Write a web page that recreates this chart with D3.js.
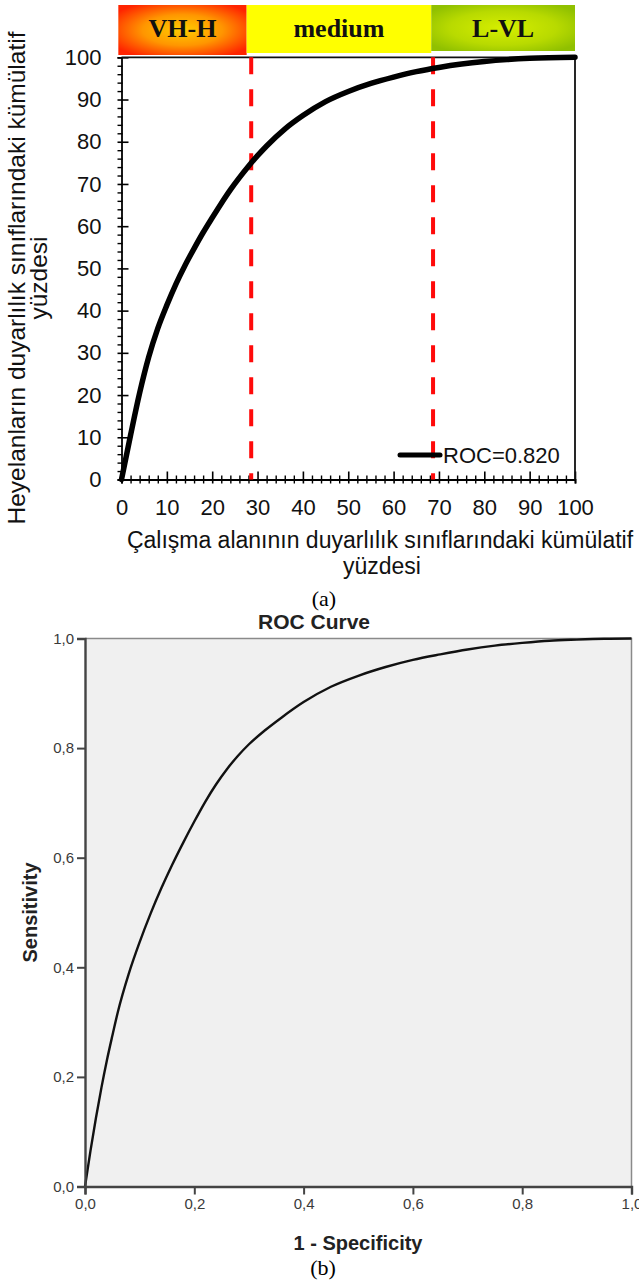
<!DOCTYPE html>
<html>
<head>
<meta charset="utf-8">
<script src="https://cdn.jsdelivr.net/npm/d3@7"></script>
<style>
  html, body { margin: 0; padding: 0; background: #fff; }
  svg { display: block; }
</style>
</head>
<body>
<script>
// ---------- DATA ----------
// (a) cumulative percentage curve
const curveAX = [0, 2, 4, 6, 8, 10, 12, 14, 16, 18, 20, 22, 24, 26, 28, 30, 32, 36, 40, 45, 50, 55, 60, 65, 70, 75, 80, 85, 90, 100];
const curveAY = [0, 10.5, 20.5, 29, 35.8, 41.3, 46.3, 50.7, 54.7, 58.5, 62, 65.4, 68.6, 71.5, 74.2, 76.7, 79, 83, 86.2, 89.5, 91.9, 93.8, 95.3, 96.6, 97.6, 98.4, 99, 99.45, 99.75, 100];
const bandLabels = ["VH-H", "medium", "L-VL"];
const bandEdges = [-0.7, 27.6, 68.3, 100];
const cutoffs = [28.6, 68.7];
const ticksA = [0, 10, 20, 30, 40, 50, 60, 70, 80, 90, 100];
const legendA = "ROC=0.820";
const xTitleA = ["Çalışma alanının duyarlılık sınıflarındaki kümülatif", "yüzdesi"];
const yTitleA = ["Heyelanların duyarlılık sınıflarındaki kümülatif", "yüzdesi"];

// (b) SPSS ROC curve
const rocFpr = [0, 0.01, 0.02, 0.03, 0.04, 0.05, 0.06, 0.08, 0.10, 0.12, 0.14, 0.16, 0.18, 0.20, 0.22, 0.24, 0.26, 0.28, 0.30, 0.33, 0.36, 0.40, 0.45, 0.50, 0.55, 0.60, 0.65, 0.70, 0.75, 0.80, 0.85, 0.90, 0.95, 1.0];
const rocTpr = [0, 0.065, 0.125, 0.18, 0.23, 0.275, 0.318, 0.388, 0.446, 0.498, 0.545, 0.588, 0.628, 0.666, 0.702, 0.734, 0.762, 0.786, 0.807, 0.833, 0.856, 0.884, 0.912, 0.932, 0.948, 0.961, 0.971, 0.980, 0.987, 0.992, 0.996, 0.998, 0.9995, 1.0];
const ticksB = [0, 0.2, 0.4, 0.6, 0.8, 1.0];
const titleB = "ROC Curve";
const xTitleB = "1 - Specificity";
const yTitleB = "Sensitivity";

// ---------- DRAW ----------
const W = 639, H = 1283;
const SANS = "'Liberation Sans', Arial, sans-serif";
const SERIF = "'Liberation Serif', 'Times New Roman', serif";

const svg = d3.select("body").append("svg").attr("width", W).attr("height", H);
svg.append("rect").attr("width", W).attr("height", H).attr("fill", "#fff");

const defs = svg.append("defs");
const g1 = defs.append("radialGradient").attr("id", "gradHigh").attr("cx", "50%").attr("cy", "50%").attr("r", "62%");
g1.append("stop").attr("offset", "0%").attr("stop-color", "#ffcc00");
g1.append("stop").attr("offset", "50%").attr("stop-color", "#ff9600");
g1.append("stop").attr("offset", "100%").attr("stop-color", "#ff2400");
const g2 = defs.append("radialGradient").attr("id", "gradLow").attr("cx", "50%").attr("cy", "50%").attr("r", "62%");
g2.append("stop").attr("offset", "0%").attr("stop-color", "#d6ee00");
g2.append("stop").attr("offset", "60%").attr("stop-color", "#b8da00");
g2.append("stop").attr("offset", "100%").attr("stop-color", "#90c000");
const bandFills = ["url(#gradHigh)", "#ffff00", "url(#gradLow)"];
const bandBottoms = [55, 53, 51];

// ===== Chart (a) =====
const xA = d3.scaleLinear().domain([0, 100]).range([121.5, 575]);
const yA = d3.scaleLinear().domain([0, 100]).range([479.5, 57.3]);

// header bands
const bands = svg.append("g");
bandLabels.forEach((lab, i) => {
  const x0 = xA(bandEdges[i]), x1 = xA(bandEdges[i + 1]);
  bands.append("rect").attr("x", x0).attr("y", 5).attr("width", x1 - x0).attr("height", bandBottoms[i] - 5)
    .attr("fill", bandFills[i]);
  bands.append("text").attr("x", (x0 + x1) / 2).attr("y", 37).attr("text-anchor", "middle")
    .attr("font-family", SERIF).attr("font-weight", "bold").attr("font-size", 26).attr("fill", "#111")
    .text(lab);
});

// axes a
const axA = svg.append("g").attr("font-family", SANS);
const minorA = d3.range(0, 101, 2).filter(v => v % 10 !== 0);

const xAxisA = axA.append("g").attr("transform", `translate(0,${yA(0)})`)
  .call(d3.axisBottom(xA).tickValues(ticksA).tickFormat(d3.format("d")).tickSize(4));
xAxisA.selectAll(".tick line").attr("y1", -8).attr("y2", 4).attr("stroke", "#000").attr("stroke-width", 1.6);
const xMinorA = axA.append("g").attr("transform", `translate(0,${yA(0)})`)
  .call(d3.axisBottom(xA).tickValues(minorA).tickFormat("").tickSize(4));
xMinorA.selectAll(".tick line").attr("y1", -4).attr("y2", 4).attr("stroke", "#000").attr("stroke-width", 1.4);
xMinorA.select(".domain").remove();

const yAxisA = axA.append("g").attr("transform", `translate(${xA(0)},0)`)
  .call(d3.axisLeft(yA).tickValues(ticksA).tickFormat(d3.format("d")).tickSize(4));
yAxisA.selectAll(".tick line").attr("x1", -4).attr("x2", 7).attr("stroke", "#000").attr("stroke-width", 1.6);
const yMinorA = axA.append("g").attr("transform", `translate(${xA(0)},0)`)
  .call(d3.axisLeft(yA).tickValues(minorA).tickFormat("").tickSize(4));
yMinorA.selectAll(".tick line").attr("x1", -4).attr("x2", 1).attr("stroke", "#000").attr("stroke-width", 1.4);
yMinorA.select(".domain").remove();

axA.selectAll(".domain").attr("stroke", "#000").attr("stroke-width", 1.8);
axA.selectAll(".tick text").attr("font-size", 22).attr("fill", "#111").attr("font-family", SANS);
xAxisA.selectAll(".tick text").attr("dy", "0.71em").attr("y", 20);
yAxisA.selectAll(".tick text").attr("x", -20);

// frame top/right
svg.append("path")
  .attr("d", `M${xA(0)},${yA(100)}H${xA(100)}V${yA(0)}`)
  .attr("fill", "none").attr("stroke", "#111").attr("stroke-width", 1.8);

// cutoff lines
svg.append("g").selectAll("line").data(cutoffs).join("line")
  .attr("x1", d => xA(d)).attr("x2", d => xA(d))
  .attr("y1", yA(100)).attr("y2", yA(0))
  .attr("stroke", "#ff0a0a").attr("stroke-width", 4).attr("stroke-dasharray", "17,15");

// curve
const lineA = d3.line().x(d => xA(d[0])).y(d => yA(d[1])).curve(d3.curveMonotoneX);
svg.append("path").datum(d3.zip(curveAX, curveAY))
  .attr("d", lineA).attr("fill", "none").attr("stroke", "#000").attr("stroke-width", 5.5)
  .attr("stroke-linecap", "round");

// legend
svg.append("line").attr("x1", 400).attr("x2", 440).attr("y1", 455).attr("y2", 455)
  .attr("stroke", "#000").attr("stroke-width", 5).attr("stroke-linecap", "round");
svg.append("text").attr("x", 443).attr("y", 463).attr("font-family", SANS).attr("font-size", 22)
  .attr("fill", "#111").text(legendA);

// axis titles
svg.append("g").selectAll("text").data(xTitleA).join("text")
  .attr("x", (d, i) => i === 0 ? 380 : 382).attr("y", (d, i) => 548 + i * 26)
  .attr("text-anchor", "middle").attr("font-family", SANS).attr("font-size", 23).attr("fill", "#111")
  .text(d => d);
svg.append("g").selectAll("text").data(yTitleA).join("text")
  .attr("transform", (d, i) => `translate(${25 + i * 22},278) rotate(-90)`)
  .attr("text-anchor", "middle").attr("font-family", SANS).attr("font-size", 24.5).attr("fill", "#111")
  .text(d => d);

svg.append("text").attr("x", 324).attr("y", 606).attr("text-anchor", "middle")
  .attr("font-family", SERIF).attr("font-size", 22).attr("fill", "#000").text("(a)");

// ===== Chart (b) =====
const xB = d3.scaleLinear().domain([0, 1]).range([85, 631.5]);
const yB = d3.scaleLinear().domain([0, 1]).range([1186.5, 638.5]);
const fmtB = v => d3.format(".1f")(v).replace(".", ",");

svg.append("rect").attr("x", xB(0)).attr("y", yB(1)).attr("width", xB(1) - xB(0)).attr("height", yB(0) - yB(1))
  .attr("fill", "#f0f0f0");
svg.append("path").attr("d", `M${xB(0)},${yB(1)}H${xB(1)}V${yB(0)}`)
  .attr("fill", "none").attr("stroke", "#8a8a8a").attr("stroke-width", 1.5);

svg.append("text").attr("x", 258).attr("y", 629).attr("font-family", SANS).attr("font-weight", "bold")
  .attr("font-size", 21).attr("fill", "#222").text(titleB);

const lineB = d3.line().x(d => xB(d[0])).y(d => yB(d[1])).curve(d3.curveMonotoneX);
svg.append("path").datum(d3.zip(rocFpr, rocTpr))
  .attr("d", lineB).attr("fill", "none").attr("stroke", "#111").attr("stroke-width", 2.4);

const axB = svg.append("g").attr("font-family", SANS);
const xAxisB = axB.append("g").attr("transform", `translate(0,${yB(0)})`)
  .call(d3.axisBottom(xB).tickValues(ticksB).tickFormat(fmtB).tickSize(8).tickPadding(4));
const yAxisB = axB.append("g").attr("transform", `translate(${xB(0)},0)`)
  .call(d3.axisLeft(yB).tickValues(ticksB).tickFormat(fmtB).tickSize(8).tickPadding(3));
axB.selectAll(".domain").attr("stroke", "#444").attr("stroke-width", 2.4);
axB.selectAll(".tick line").attr("stroke", "#444").attr("stroke-width", 2);
axB.selectAll(".tick text").attr("font-size", 15).attr("fill", "#3a3a3a").attr("font-family", SANS);

svg.append("text").attr("x", 358).attr("y", 1250).attr("text-anchor", "middle")
  .attr("font-family", SANS).attr("font-weight", "bold").attr("font-size", 20).attr("fill", "#222").text(xTitleB);
svg.append("text").attr("transform", `translate(37,${(yB(0) + yB(1)) / 2}) rotate(-90)`)
  .attr("text-anchor", "middle").attr("font-family", SANS).attr("font-weight", "bold")
  .attr("font-size", 20).attr("fill", "#222").text(yTitleB);

svg.append("text").attr("x", 323).attr("y", 1275).attr("text-anchor", "middle")
  .attr("font-family", SERIF).attr("font-size", 22).attr("fill", "#000").text("(b)");
</script>
</body>
</html>
